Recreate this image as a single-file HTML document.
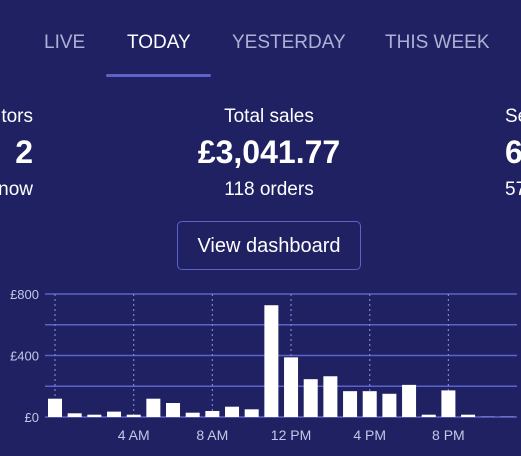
<!DOCTYPE html>
<html><head><meta charset="utf-8">
<style>
html,body{margin:0;width:521px;height:456px;overflow:hidden}
body{background:#1f2163;font-family:"Liberation Sans",sans-serif;position:relative}
#wrap{position:absolute;left:0;top:0;width:521px;height:456px;overflow:hidden}
.t{position:absolute;white-space:nowrap;overflow:hidden}
.tab{font-size:19px;color:#aeb0d6;top:32px}
.lbl{font-size:19px;color:#fff;top:106px}
.big{font-size:32px;font-weight:bold;color:#fff;top:134px}
.sub{font-size:19px;color:#fff;top:179px}
.L{left:0;width:33px;text-align:right;direction:rtl}
.R{left:505px;width:16px}
</style></head><body>
<div id="wrap">
<div class="t tab" style="left:44px">LIVE</div>
<div class="t tab" style="left:127px;color:#fff">TODAY</div>
<div class="t tab" style="left:232px">YESTERDAY</div>
<div class="t tab" style="left:385px">THIS WEEK</div>
<div style="position:absolute;left:106px;top:74px;width:105px;height:3px;background:#5b63c8;border-radius:2px"></div>

<div class="t lbl L">tors</div>
<div class="t big L">2</div>
<div class="t sub L">now</div>

<div class="t lbl" style="left:0;width:538px;text-align:center">Total sales</div>
<div class="t big" style="left:0;width:538px;text-align:center">£3,041.77</div>
<div class="t sub" style="left:0;width:538px;text-align:center">118 orders</div>

<div class="t lbl R">Sessions</div>
<div class="t big R">6</div>
<div class="t sub R">57</div>

<div style="position:absolute;left:177px;top:221px;width:182px;height:47px;border:1.5px solid #5b63c8;border-radius:5px;color:#fff;font-size:20px;line-height:49px;text-align:center">View dashboard</div>

<svg id="chart" width="521" height="456" style="position:absolute;left:0;top:0"></svg>
</div>
<script>
const hours=[0,1,2,3,4,5,6,7,8,9,10,11,12,13,14,15,16,17,18,19,20,21,22,23];
const sales=[119,24,15,35,15,119,91,28,39,67,50,727,388,246,265,168,168,151,209,15,173,15,4,4];
const yTicks=[0,400,800];
const yTickLabels=["£0","£400","£800"];
const gridVals=[0,200,400,600,800];
const xTickHours=[0,4,8,12,16,20];
const xTickLabels=["","4 AM","8 AM","12 PM","4 PM","8 PM"];
const svg=document.getElementById('chart');
const NS='http://www.w3.org/2000/svg';
const y=v=>417-v*123/800;
const x=h=>55+h*19.67;
function mk(t,a){const e=document.createElementNS(NS,t);for(const k in a)e.setAttribute(k,a[k]);svg.appendChild(e);return e;}
gridVals.forEach(v=>{const l=mk('line',{x1:45,x2:517,y1:y(v),y2:y(v),stroke:'#5b63c8','stroke-width':1.5});

});
xTickHours.forEach((h,i)=>{const l=mk('line',{x1:x(h),x2:x(h),y1:y(800),y2:y(0),stroke:'#7b82d8','stroke-width':1.2,'stroke-dasharray':'2,3'});


if(xTickLabels[i]){const t=mk('text',{x:x(h),y:440,'text-anchor':'middle',fill:'#c4c6e6','font-size':14,'font-family':'Liberation Sans, sans-serif'});t.textContent=xTickLabels[i];

}});
yTicks.forEach((v,i)=>{const t=mk('text',{x:39,y:y(v)+5,'text-anchor':'end',fill:'#c4c6e6','font-size':13,'font-family':'Liberation Sans, sans-serif'});t.textContent=yTickLabels[i];

});
hours.forEach((h,i)=>{const v=sales[i];const r=mk('rect',{x:x(h)-7,y:y(v),width:14,height:417-y(v),fill:v<10?'#8a8fd0':'#fff'});

});
</script>
</body></html>
